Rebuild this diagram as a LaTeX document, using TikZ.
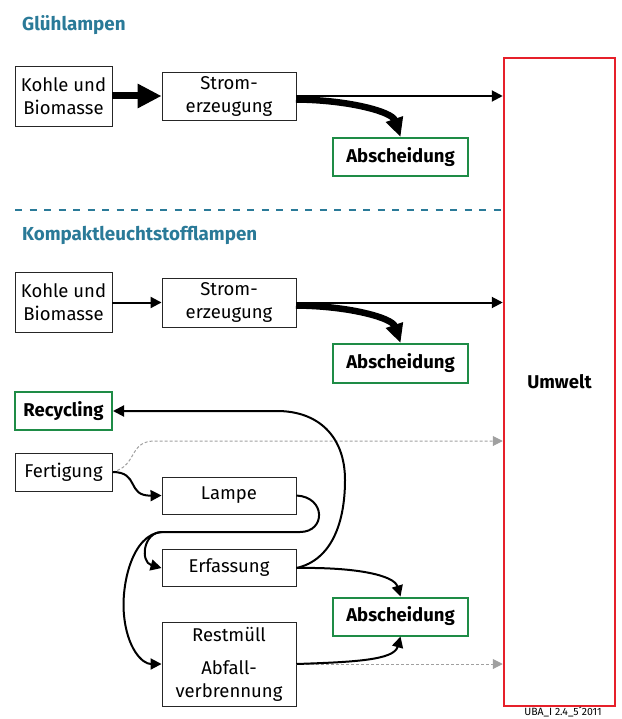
\documentclass[tikz,border=0pt]{standalone}
\usepackage{fontspec}
\setmainfont{Fira Sans}
\usetikzlibrary{arrows.meta}
\definecolor{teal1}{RGB}{42,122,152}
\definecolor{grn}{RGB}{30,140,70}
\definecolor{rd}{RGB}{230,32,42}
\definecolor{gr}{RGB}{160,160,160}
\begin{document}
\begin{tikzpicture}[x=1pt,y=-1pt,
  box/.style={draw=black!85,line width=0.9pt,fill=white,inner sep=0pt,align=center,
    font=\fontsize{18.5}{23}\selectfont},
  gbox/.style={box,draw=grn,line width=2pt,font=\fontsize{18.5}{23}\selectfont\bfseries},
  ttl/.style={anchor=west,text=teal1,font=\fontsize{18.8}{22}\selectfont\bfseries,inner sep=0pt},
  flow/.style={line width=2pt,-{Triangle[length=11pt,width=11pt]}},
  fatflow/.style={line width=6.5pt,-{Triangle[length=19pt,width=17pt]}},
  grflow/.style={gr,line width=1pt,dash pattern=on 3pt off 2pt,-{Triangle[length=10pt,width=10pt]}}
]
\useasboundingbox (0,0) rectangle (621,719);

% titles
\node[ttl] (t1) at (22,25) {Glühlampen};
\node[ttl] (t2) at (22,235) {Kompaktleuchtstofflampen};
\coordinate (d1) at (15,210);
\coordinate (d2) at (502,210);
\draw[teal1,line width=2.5pt,dash pattern=on 7pt off 7.5pt] (d1) -- (d2);

% Umwelt
\node[draw=rd,line width=2.5pt,minimum width=111pt,minimum height=648pt,inner sep=0pt,
  font=\fontsize{18.5}{23}\selectfont\bfseries] (umw) at (559.5,382) {Umwelt};

% top section
\node[box,minimum width=97pt,minimum height=60pt] (k1) at (63.5,96) {Kohle und\\Biomasse};
\node[box,minimum width=134pt,minimum height=48pt] (s1) at (229,96) {Strom-\\erzeugung};
\node[gbox,minimum width=135pt,minimum height=38pt] (a1) at (400.5,157) {Abscheidung};

\draw[line width=7pt,-{Triangle[length=24pt,width=23pt]}] (k1) -- (s1);
\draw[flow] (s1.east) -- (s1.east -| umw.west);
\coordinate (s1o) at (296,99.5);
\draw[fatflow] (s1o) .. controls (350,100) and (392,112) .. (a1.north);

% middle section
\node[box,minimum width=97pt,minimum height=60pt] (k2) at (63.5,302.5) {Kohle und\\Biomasse};
\node[box,minimum width=134pt,minimum height=49pt] (s2) at (229,302.5) {Strom-\\erzeugung};
\node[gbox,minimum width=135pt,minimum height=39pt] (a2) at (400.5,363.5) {Abscheidung};

\draw[flow] (k2) -- (s2);
\draw[flow] (s2.east) -- (s2.east -| umw.west);
\coordinate (s2o) at (296,305.5);
\draw[fatflow] (s2o) .. controls (350,306) and (392,318) .. (a2.north);

% lower section
\node[gbox,minimum width=97pt,minimum height=38pt] (rec) at (63.5,411) {Recycling};
\node[box,minimum width=97pt,minimum height=38pt] (fer) at (63.5,472) {Fertigung};
\node[box,minimum width=134pt,minimum height=37pt] (lam) at (229,495.5) {Lampe};
\node[box,minimum width=134pt,minimum height=37pt] (erf) at (229,568) {Erfassung};
\node[box,minimum width=134pt,minimum height=84pt] (rst) at (229,664) {Restmüll\\[10pt]Abfall-\\verbrennung};
\node[gbox,minimum width=135pt,minimum height=38pt] (a3) at (400.5,616.5) {Abscheidung};

% grey dashed flows to Umwelt
\coordinate (g1) at (155,441);
\draw[grflow] (fer.east) .. controls (138,466) and (128,441) .. (g1) -- (g1 -| umw.west);
\draw[grflow] (rst.east) -- (rst.east -| umw.west);

% Fertigung -> Lampe
\draw[flow] (fer.east) .. controls (140,472) and (126,496) .. (lam.west);

% Lampe -> Erfassung / Restmüll
\coordinate (lp) at (300,532);
\coordinate (sp) at (162,532);
\draw[line width=2pt] (lam.east) .. controls (326,497) and (326,532) .. (lp) -- (sp);
\draw[flow] (sp) .. controls (143,532) and (140,562) .. (erf.west);
\draw[flow] (sp) .. controls (132,534) and (121,585) .. (124,615) .. controls (127,648) and (142,664) .. (rst.west);

% Erfassung -> Recycling
\coordinate (r1) at (345,480);
\coordinate (r2) at (277,411);
\draw[flow] (erf.east) .. controls (332,560) and (345,522) .. (r1) .. controls (345,436) and (318,411) .. (r2) -- (rec.east);

% to Abscheidung
\draw[flow] (erf.east) .. controls (355,567) and (394,575) .. (a3.north);
\draw[flow] (rst.east) .. controls (355,662) and (394,660) .. (a3.south);

% footer
\node[anchor=base,inner sep=0pt,font=\fontsize{10.5}{11}\selectfont] (ft) at (563,715) {UBA\_I 2.4\_5´2011};
\end{tikzpicture}
\end{document}
